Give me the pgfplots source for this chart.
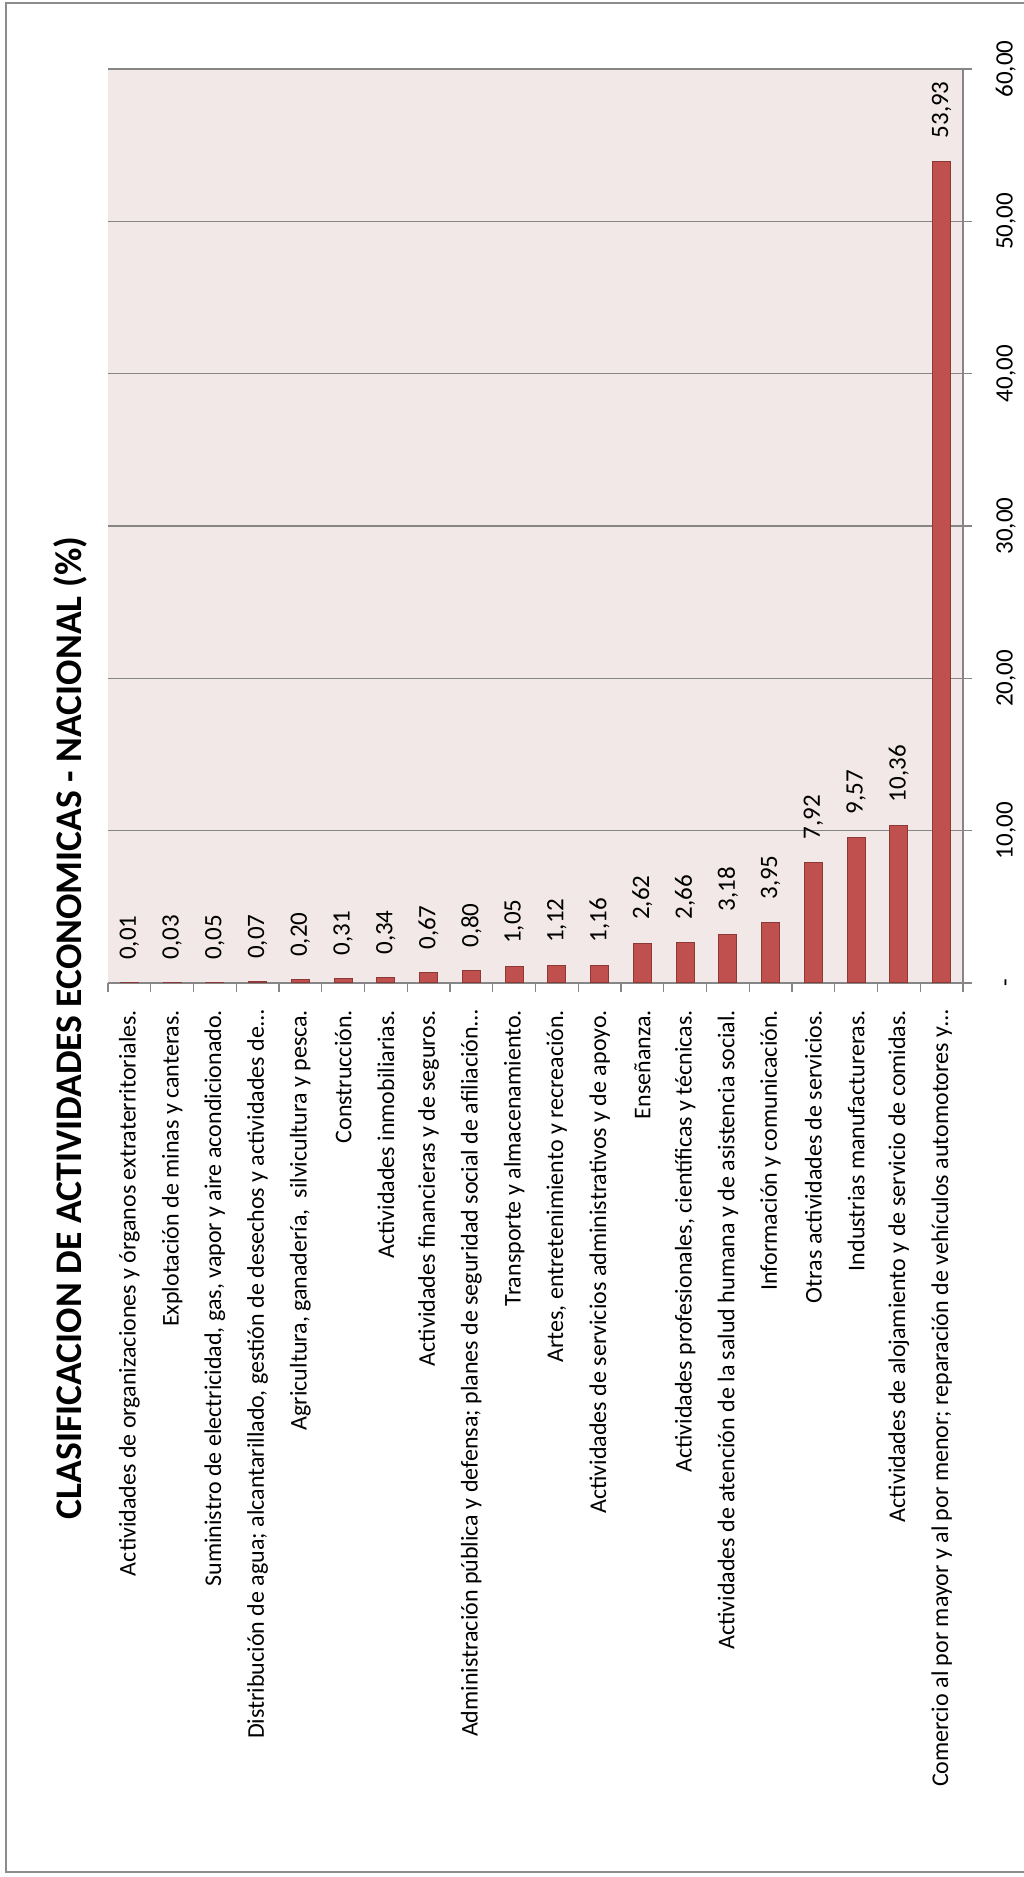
\documentclass[border=0pt]{standalone}
\usepackage{fontspec}
\setmainfont{Carlito}
\usepackage{pgfplots}
\pgfplotsset{compat=1.18}
\definecolor{barfill}{RGB}{192,80,77}
\definecolor{baredge}{RGB}{140,56,54}
\definecolor{bgpink}{RGB}{242,232,232}
\definecolor{gridgray}{RGB}{134,134,134}
\definecolor{framegray}{RGB}{140,140,140}
\begin{document}
\begin{tikzpicture}
\useasboundingbox (0,0) rectangle (511.5pt,938.5pt);
\draw[framegray, line width=1pt] (3pt,2.5pt) rectangle (514pt,937pt);
\begin{axis}[
  at={(54pt,447pt)}, anchor=south west,
  scale only axis, width=427.5pt, height=457pt,
  xmin=-0.5, xmax=19.5, ymin=0, ymax=60,
  ybar, bar width=9pt,
  axis x line*=bottom, axis y line*=right,
  axis line style={draw=gridgray, line width=0.7pt, -},
  axis background/.style={fill=bgpink},
  /pgf/number format/assume math mode=true,
  xtick={-0.5,0.5,...,19.5}, xticklabels={},
  ytick={0,10,...,60},
  yticklabels={{-},{10,00},{20,00},{30,00},{40,00},{50,00},{60,00}},
  tick align=outside, major tick length=4.5pt,
  tick style={draw=gridgray, line width=0.7pt},
  ymajorgrids, grid style={draw=gridgray, line width=0.7pt},
  yticklabel style={font=\fontsize{12.5}{15}\selectfont, xshift=9pt, rotate=90, anchor=north, text height=7.8pt, text depth=0pt},
  extra x ticks={0,1,...,19},
  extra x tick labels={
    {Actividades de organizaciones y órganos extraterritoriales.},
    {Explotación de minas y canteras.},
    {Suministro de electricidad, gas, vapor y aire acondicionado.},
    {Distribución de agua; alcantarillado, gestión de desechos y actividades de…},
    {Agricultura, ganadería,\ \ silvicultura y pesca.},
    {Construcción.},
    {Actividades inmobiliarias.},
    {Actividades financieras y de seguros.},
    {Administración pública y defensa; planes de seguridad social de afiliación…},
    {Transporte y almacenamiento.},
    {Artes, entretenimiento y recreación.},
    {Actividades de servicios administrativos y de apoyo.},
    {Enseñanza.},
    {Actividades profesionales, científicas y técnicas.},
    {Actividades de atención de la salud humana y de asistencia social.},
    {Información y comunicación.},
    {Otras actividades de servicios.},
    {Industrias manufactureras.},
    {Actividades de alojamiento y de servicio de comidas.},
    {Comercio al por mayor y al por menor; reparación de vehículos automotores y…}},
  extra x tick style={major tick length=0pt, grid=none,
    xticklabel style={font=\fontsize{12}{14}\selectfont, yshift=-10pt, rotate=90, anchor=east}},
  nodes near coords={\pgfmathprintnumber[fixed,fixed zerofill,precision=2,use comma]{\pgfplotspointmeta}},
  every node near coord/.append style={font=\fontsize{12.5}{15}\selectfont, yshift=8pt, rotate=90, anchor=west, text=black},
]
\addplot[fill=barfill, draw=baredge, line width=0.5pt] coordinates {
(0,0.01) (1,0.03) (2,0.05) (3,0.07) (4,0.20) (5,0.31) (6,0.34) (7,0.67) (8,0.80) (9,1.05)
(10,1.12) (11,1.16) (12,2.62) (13,2.66) (14,3.18) (15,3.95) (16,7.92) (17,9.57) (18,10.36) (19,53.93)};
\end{axis}
\node[rotate=90, font=\bfseries\fontsize{18.8}{22}\selectfont] at (35pt,424.5pt) {CLASIFICACION DE ACTIVIDADES ECONOMICAS - NACIONAL (\%)};
\end{tikzpicture}
\end{document}
